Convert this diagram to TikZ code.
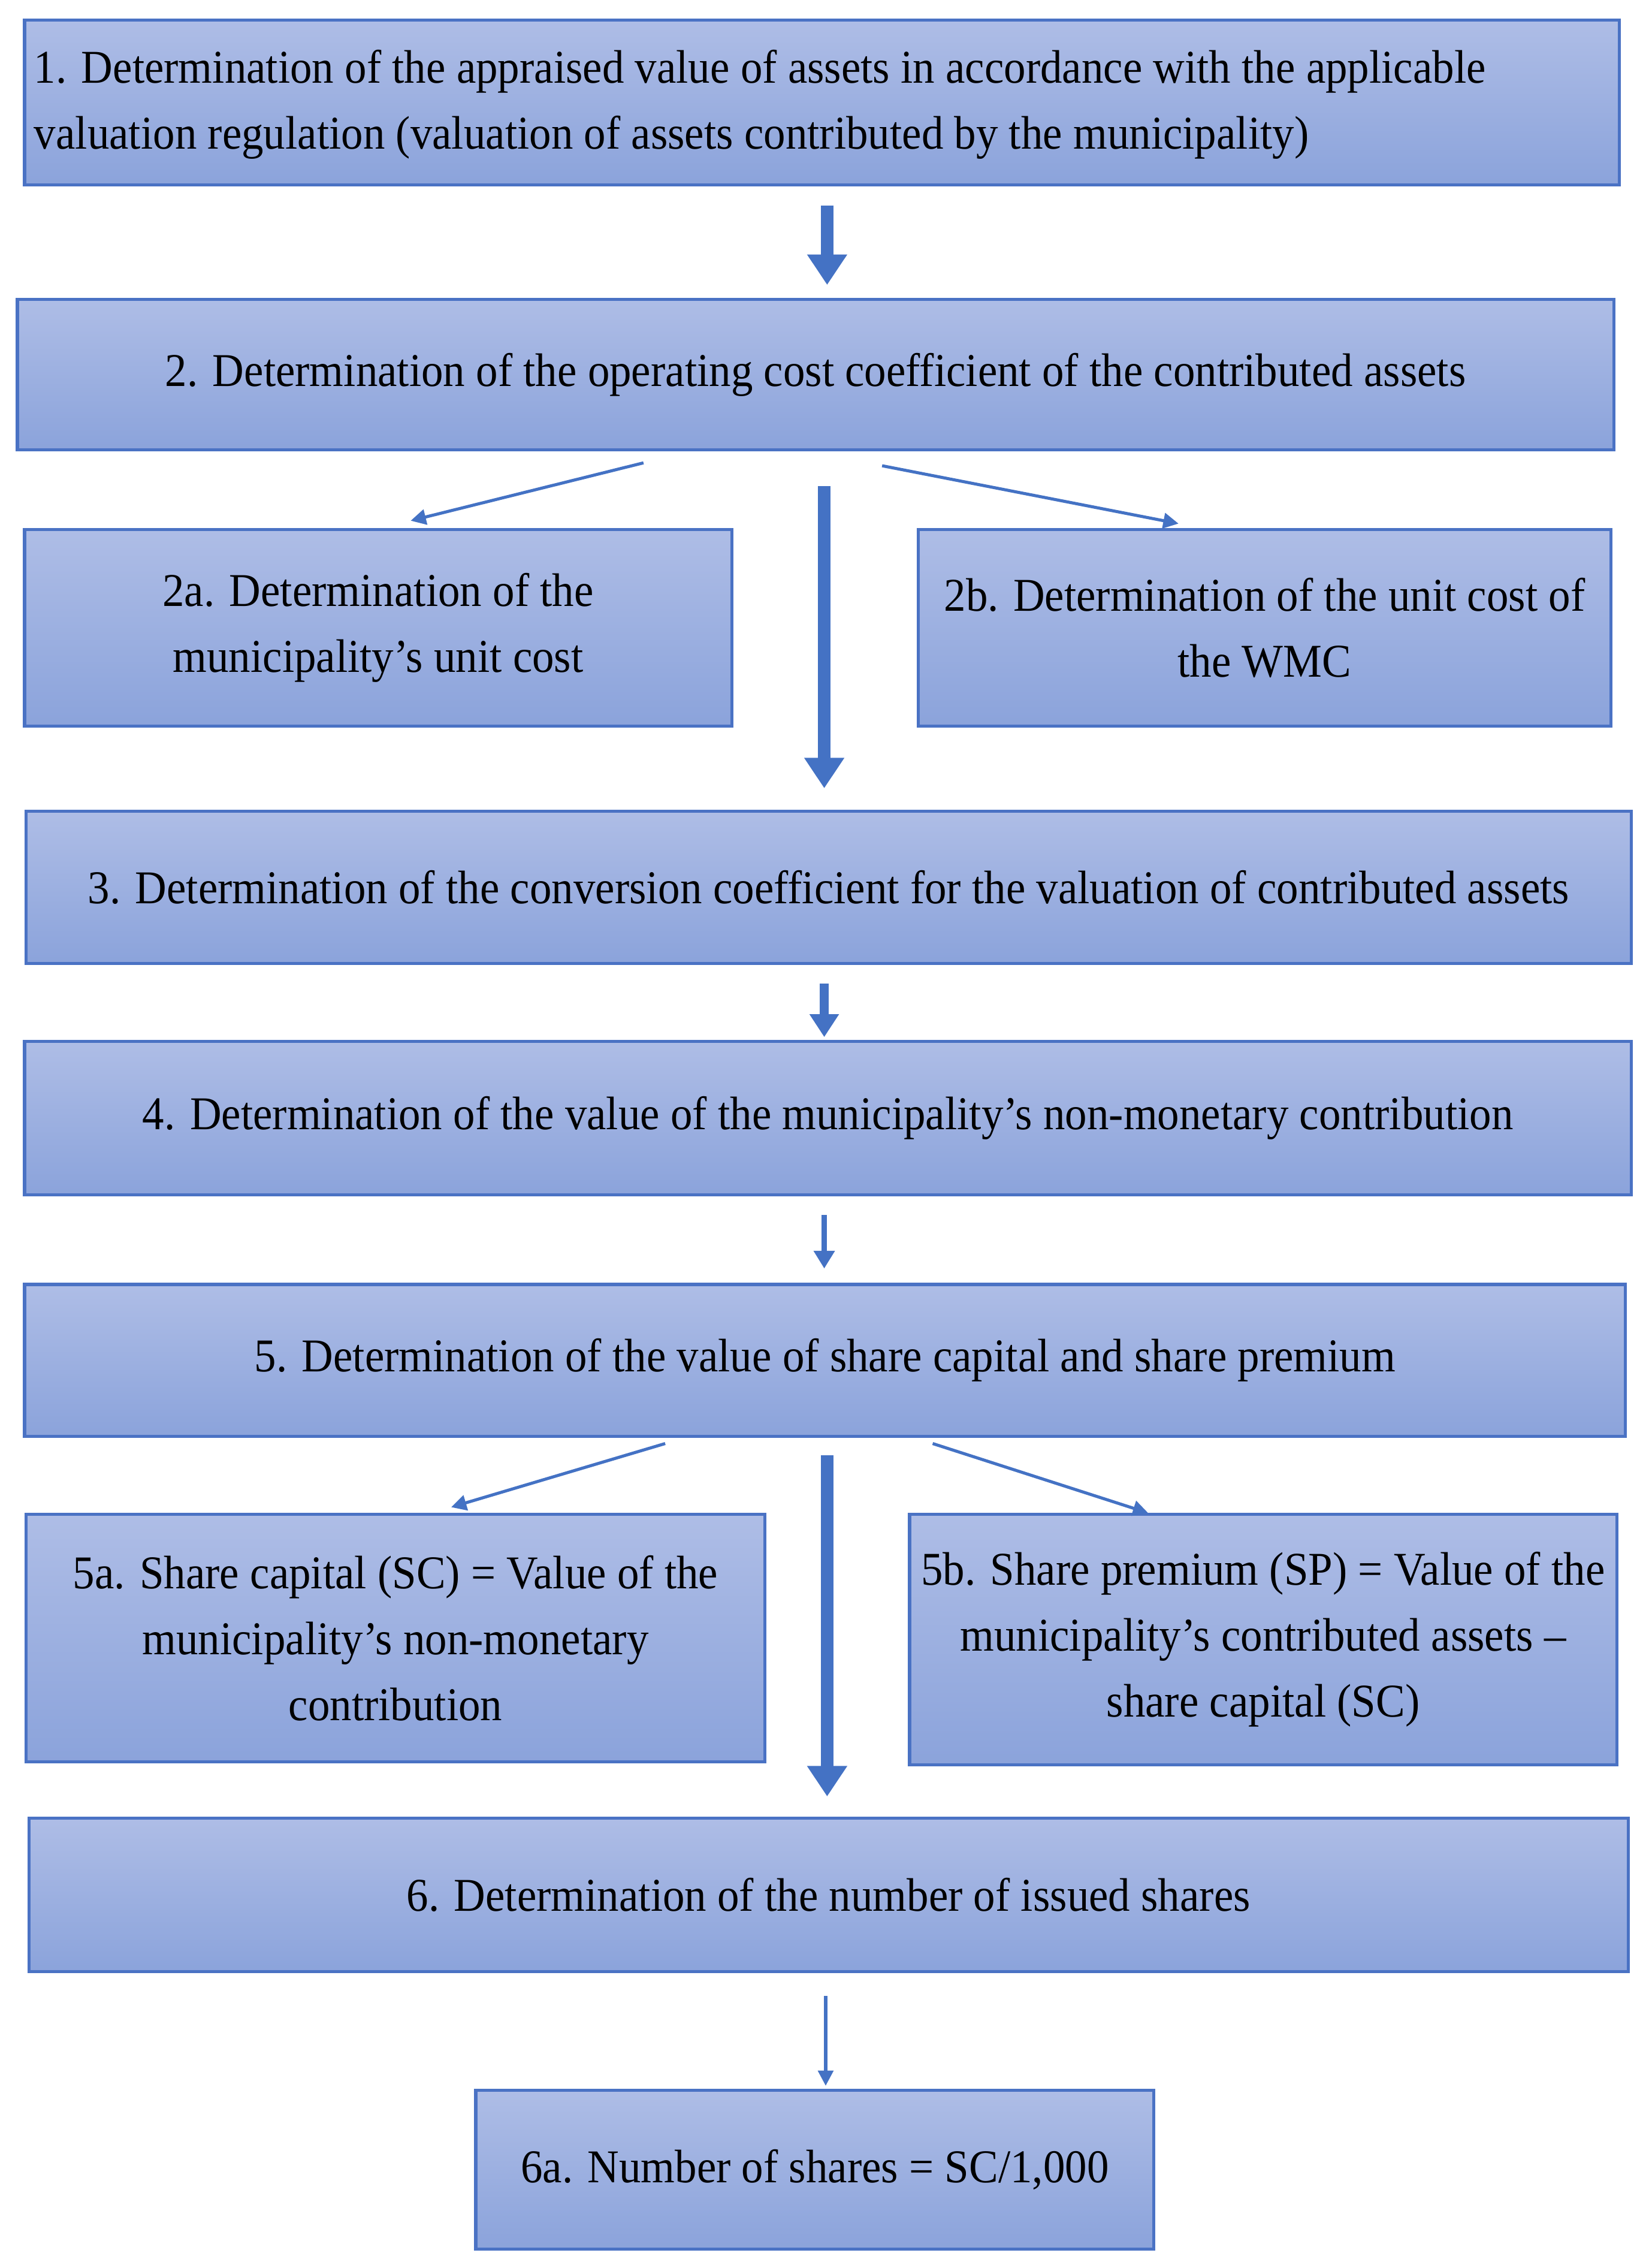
\documentclass[tikz,border=0pt]{standalone}
\usepackage{fontspec}
\setmainfont{Liberation Serif}[FakeStretch=0.93]
\usetikzlibrary{arrows.meta}
\definecolor{bord}{HTML}{4A72C4}
\definecolor{ftop}{HTML}{AEBDE6}
\definecolor{fbot}{HTML}{8BA3DB}
\definecolor{arr}{HTML}{4472C4}
\begin{document}
\begin{tikzpicture}[x=0.02cm,y=-0.02cm,
  box/.style={draw=bord,line width=1.2pt,top color=ftop,bottom color=fbot,align=center,
    font=\fontsize{18.5}{26}\selectfont,inner sep=0pt},
  big/.style={draw=arr,line width=5pt,-{Triangle[width=15pt,length=12pt]}},
  mid/.style={draw=arr,line width=3.5pt,-{Triangle[width=11pt,length=9pt]}},
  small/.style={draw=arr,line width=2pt,-{Triangle[width=8pt,length=7pt]}},
  thin/.style={draw=arr,line width=1.2pt,-{Triangle[width=6pt,length=6pt]}}]
\useasboundingbox (0,0) rectangle (1140,1568);
\newcommand{\bx}[6]{\node[box,minimum width=#4*0.02cm-#2*0.02cm,minimum height=#5*0.02cm-#3*0.02cm] (#1) at ({(#2+#4)/2},{(#3+#5)/2}) {#6};}
\bx{b1}{17}{14}{1120}{128}{\begin{tabular}{@{}p{21.8cm}@{}}1. Determination of the appraised value of assets in accordance with the applicable\\valuation regulation (valuation of assets contributed by the municipality)\end{tabular}}
\bx{b2}{12}{207}{1116}{311}{2. Determination of the operating cost coefficient of the contributed assets}
\bx{b2a}{17}{366}{506}{502}{2a. Determination of the\\municipality’s unit cost}
\bx{b2b}{635}{366}{1114}{502}{2b. Determination of the unit cost of\\the WMC}
\bx{b3}{18}{561}{1128}{666}{3. Determination of the conversion coefficient for the valuation of contributed assets}
\bx{b4}{17}{720}{1128}{826}{4. Determination of the value of the municipality’s non-monetary contribution}
\bx{b5}{17}{888}{1124}{993}{5. Determination of the value of share capital and share premium}
\bx{b5a}{18}{1047}{529}{1218}{5a. Share capital (SC) = Value of the\\municipality’s non-monetary\\contribution}
\bx{b5b}{629}{1047}{1118}{1220}{5b. Share premium (SP) = Value of the\\municipality’s contributed assets –\\share capital (SC)}
\bx{b6}{20}{1257}{1126}{1363}{6. Determination of the number of issued shares}
\bx{b6a}{329}{1445}{798}{1555}{6a. Number of shares = SC/1,000}
\coordinate (a1s) at (572,142); \coordinate (a1e) at (572,197);
\coordinate (a2s) at (570,336); \coordinate (a2e) at (570,545);
\coordinate (a3s) at (570,680); \coordinate (a3e) at (570,717);
\coordinate (a4s) at (570,840); \coordinate (a4e) at (570,877);
\coordinate (a5s) at (572,1006); \coordinate (a5e) at (572,1242);
\coordinate (a6s) at (571,1380); \coordinate (a6e) at (571,1442);
\coordinate (d1s) at (445,320); \coordinate (d1e) at (284,360);
\coordinate (d2s) at (610,322); \coordinate (d2e) at (815,362);
\coordinate (d3s) at (460,998); \coordinate (d3e) at (312,1042);
\coordinate (d4s) at (645,998); \coordinate (d4e) at (794,1046);
\draw[big] (a1s) -- (a1e);
\draw[big] (a2s) -- (a2e);
\draw[mid] (a3s) -- (a3e);
\draw[small] (a4s) -- (a4e);
\draw[big] (a5s) -- (a5e);
\draw[thin] (a6s) -- (a6e);
\draw[thin] (d1s) -- (d1e);
\draw[thin] (d2s) -- (d2e);
\draw[thin] (d3s) -- (d3e);
\draw[thin] (d4s) -- (d4e);
\end{tikzpicture}
\end{document}
